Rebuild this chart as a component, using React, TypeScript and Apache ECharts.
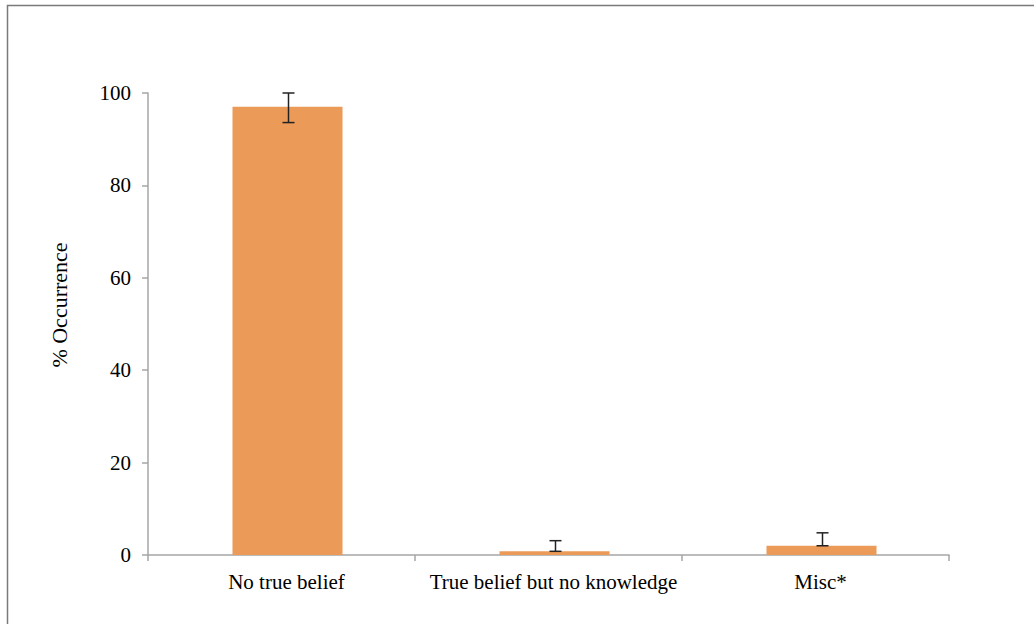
import React, { useEffect, useRef } from "react";
import * as echarts from "echarts";

const categories = ["No true belief", "True belief but no knowledge", "Misc*"];
const values = [97.0, 0.8, 2.0];
const errLow = [93.6, 0.8, 2.0];
const errHigh = [100.0, 3.1, 4.8];
const yTicks = { min: 0, max: 100, interval: 20 };

const FONT = "Liberation Serif";

export default function App() {
  const ref = useRef<HTMLDivElement>(null);
  useEffect(() => {
    if (!ref.current) return;
    const chart = echarts.init(ref.current, null, { renderer: "svg" });
    chart.setOption({
      animation: false,
      backgroundColor: "#ffffff",
      graphic: [
        {
          type: "rect",
          shape: { x: 7.5, y: 5.5, width: 1200, height: 800 },
          style: { fill: "none", stroke: "#7a7a7a", lineWidth: 1.5 },
          silent: true,
        },
      ],
      grid: { left: 148, right: 85, top: 93, bottom: 69, containLabel: false },
      xAxis: {
        type: "category",
        data: categories,
        boundaryGap: true,
        axisLine: { show: true, lineStyle: { color: "#a6a6a6", width: 1.5 } },
        axisTick: { show: true, length: 6, alignWithLabel: false, lineStyle: { color: "#a6a6a6", width: 1.5 } },
        axisLabel: { color: "#000", fontFamily: FONT, fontSize: 21, margin: 16, interval: 0, padding: [0, 0, 0, 10] },
        splitLine: { show: false },
      },
      yAxis: {
        type: "value",
        min: yTicks.min,
        max: yTicks.max,
        interval: yTicks.interval,
        name: "% Occurrence",
        nameLocation: "middle",
        nameGap: 78,
        nameRotate: 90,
        nameTextStyle: { color: "#000", fontFamily: FONT, fontSize: 22, padding: [0, 0, 0, 38] },
        axisLine: { show: true, lineStyle: { color: "#a6a6a6", width: 1.5 } },
        axisTick: { show: true, length: 6, lineStyle: { color: "#a6a6a6", width: 1.5 } },
        axisLabel: { color: "#000", fontFamily: FONT, fontSize: 21, margin: 17 },
        splitLine: { show: false },
      },
      series: [
        {
          type: "bar",
          data: categories.map(() => null),
          barWidth: 12,
          barGap: "0%",
          itemStyle: { color: "transparent" },
          silent: true,
        },
        {
          type: "bar",
          data: values,
          barWidth: 110,
          barGap: "0%",
          itemStyle: { color: "#EB9A58" },
          silent: true,
        },
        {
          type: "custom",
          silent: true,
          data: categories.map((_, i) => [i, errLow[i], errHigh[i]]),
          encode: { x: 0, y: [1, 2] },
          renderItem: (params: any, api: any) => {
            const x = api.value(0);
            const lo = api.coord([x, api.value(1)]);
            const hi = api.coord([x, api.value(2)]);
            const cx = Math.round(lo[0] + 6) + 0.5;
            const half = 6;
            const style = { stroke: "#222", lineWidth: 1.5 };
            return {
              type: "group",
              children: [
                { type: "line", shape: { x1: cx, y1: lo[1], x2: cx, y2: hi[1] }, style },
                { type: "line", shape: { x1: cx - half, y1: lo[1], x2: cx + half, y2: lo[1] }, style },
                { type: "line", shape: { x1: cx - half, y1: hi[1], x2: cx + half, y2: hi[1] }, style },
              ],
            };
          },
          z: 5,
        },
      ],
    });
    return () => chart.dispose();
  }, []);
  return (
    <div
      ref={ref}
      style={{ position: "fixed", left: 0, top: 0, width: 1034, height: 624 }}
    />
  );
}
